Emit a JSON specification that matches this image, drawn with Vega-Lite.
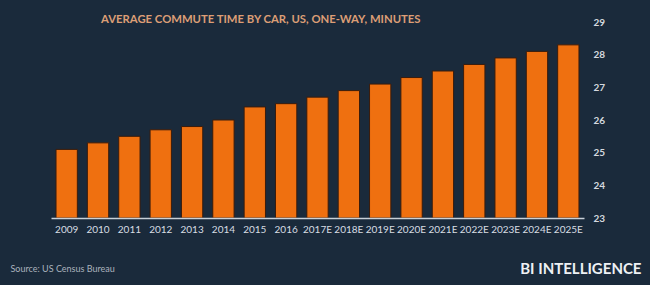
{
  "$schema": "https://vega.github.io/schema/vega-lite/v6.json",
  "width": 533,
  "height": 196,
  "autosize": {"type": "none"},
  "padding": {"left": 51, "top": 22, "right": 66, "bottom": 67},
  "background": "#1a2a3b",
  "config": {
    "view": {"stroke": null},
    "font": "Lato"
  },
  "title": {
    "text": "AVERAGE COMMUTE TIME BY CAR, US, ONE-WAY, MINUTES",
    "anchor": "start",
    "frame": "group",
    "dx": 50,
    "dy": 18,
    "offset": 4,
    "baseline": "middle",
    "font": "Lato",
    "fontSize": 11.3,
    "fontWeight": "bold",
    "color": "#dc9e76"
  },
  "data": {
    "values": [
      {"year": "2009", "minutes": 25.1},
      {"year": "2010", "minutes": 25.3},
      {"year": "2011", "minutes": 25.5},
      {"year": "2012", "minutes": 25.7},
      {"year": "2013", "minutes": 25.8},
      {"year": "2014", "minutes": 26.0},
      {"year": "2015", "minutes": 26.4},
      {"year": "2016", "minutes": 26.5},
      {"year": "2017E", "minutes": 26.7},
      {"year": "2018E", "minutes": 26.9},
      {"year": "2019E", "minutes": 27.1},
      {"year": "2020E", "minutes": 27.3},
      {"year": "2021E", "minutes": 27.5},
      {"year": "2022E", "minutes": 27.7},
      {"year": "2023E", "minutes": 27.9},
      {"year": "2024E", "minutes": 28.1},
      {"year": "2025E", "minutes": 28.3}
    ]
  },
  "mark": {"type": "bar", "color": "#ef7010", "stroke": "#3a1c0c", "strokeWidth": 1},
  "encoding": {
    "x": {
      "field": "year",
      "type": "ordinal",
      "sort": null,
      "scale": {"paddingInner": 0.32, "paddingOuter": 0.16},
      "axis": {
        "title": "Source: US Census Bureau",
        "titleAnchor": "start",
        "titleAlign": "left",
        "titleX": -41,
        "titleY": 50,
        "titleBaseline": "middle",
        "titleFont": "Lato",
        "titleFontSize": 9,
        "titleFontWeight": "normal",
        "titleColor": "#aab3bd",
        "labelAngle": 0,
        "labelFont": "Lato",
        "labelFontSize": 10,
        "labelFontWeight": "normal",
        "labelColor": "#d8dde3",
        "labelPadding": 6,
        "domainColor": "#c8d0d8",
        "domainWidth": 1.5,
        "ticks": false,
        "grid": false,
        "zindex": 1
      }
    },
    "y": {
      "field": "minutes",
      "type": "quantitative",
      "scale": {"domain": [23, 29], "zero": false, "nice": false},
      "axis": {
        "orient": "right",
        "values": [23, 24, 25, 26, 27, 28, 29],
        "title": "BI INTELLIGENCE",
        "titleAngle": 0,
        "titleAlign": "right",
        "titleBaseline": "middle",
        "titleX": 57,
        "titleY": 246,
        "titleFont": "Lato",
        "titleFontSize": 15,
        "titleFontWeight": "bold",
        "titleColor": "#eef1f4",
        "labelFont": "Lato",
        "labelFontSize": 10,
        "labelFontWeight": "bold",
        "labelColor": "#d4d9df",
        "labelPadding": 9,
        "domain": false,
        "ticks": false,
        "grid": false
      }
    },
    "y2": {"datum": 23}
  }
}
